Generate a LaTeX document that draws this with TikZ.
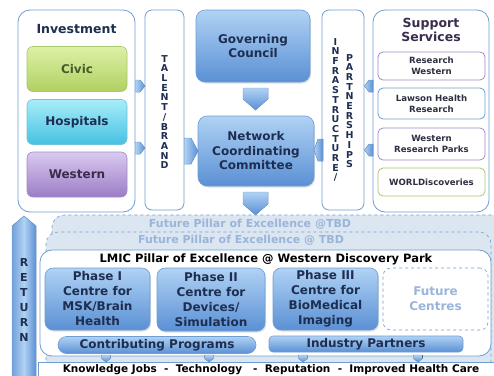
\documentclass[tikz,border=0pt]{standalone}
\usepackage{fontspec}
\setmainfont{DejaVu Sans}
\usetikzlibrary{shadows}

\definecolor{navy}{HTML}{1E2E50}
\definecolor{frameblue}{HTML}{6E9DD3}
\definecolor{boxtop}{HTML}{B0D2F4}
\definecolor{boxbot}{HTML}{5A90D4}
\definecolor{paleblue}{HTML}{DCE6F1}
\definecolor{fadetext}{HTML}{9AB4DA}
\definecolor{civictop}{HTML}{DDF1A6}
\definecolor{civicbot}{HTML}{B0D062}
\definecolor{civicline}{HTML}{A8C870}
\definecolor{civictext}{HTML}{4A5A28}
\definecolor{hosptop}{HTML}{A8EEFA}
\definecolor{hospbot}{HTML}{46C0E2}
\definecolor{hospline}{HTML}{6CC4DE}
\definecolor{westtop}{HTML}{DACAF0}
\definecolor{westbot}{HTML}{9C7CC6}
\definecolor{westline}{HTML}{A08CC8}
\definecolor{westtext}{HTML}{3A2C4C}
\definecolor{servtext}{HTML}{2E3042}

\tikzset{
  frame/.style={draw=frameblue, line width=0.8pt, fill=white, rounded corners=12pt,
    inner sep=0pt},
  bluebox/.style={draw=frameblue, line width=0.6pt, rounded corners=9pt,
    top color=boxtop, bottom color=boxbot, text=navy, align=center,
    font=\fontsize{12}{14.5}\selectfont\bfseries, inner sep=0pt,
    drop shadow={opacity=0.25, shadow xshift=1pt, shadow yshift=-1.5pt}},
  fundbox/.style={rounded corners=6pt, line width=0.6pt, align=center,
    font=\fontsize{12}{14}\selectfont\bfseries, inner sep=0pt,
    minimum width=100pt, minimum height=45pt},
  servbox/.style={draw, fill=white, rounded corners=5pt, line width=0.8pt,
    align=center, text=servtext, font=\fontsize{8.6}{11}\selectfont\bfseries,
    inner sep=0pt, minimum width=107pt},
  letters/.style={text=navy, align=center, inner sep=0pt,
    font=\fontsize{9.5}{9.7}\selectfont\bfseries},
  tab/.style={draw=frameblue, line width=0.4pt, left color=boxtop, right color=boxbot},
  downtab/.style={draw=frameblue, line width=0.4pt, top color=boxtop, bottom color=boxbot},
  future/.style={draw=frameblue, dashed, line width=0.6pt, fill=paleblue,
    rounded corners=12pt},
  pill/.style={draw=frameblue, line width=0.6pt, top color=boxtop,
    bottom color=boxbot, text=navy, inner sep=0pt,
    font=\fontsize{12}{14}\selectfont\bfseries}
}

\begin{document}
\begin{tikzpicture}[x=1pt, y=-1pt]
    \useasboundingbox (0,0) rectangle (494,375);
    \clip (0,0) rectangle (494,375);
    % top row
    \node[frame, minimum width=117pt, minimum height=202pt] (inv) at (76.5,111) {};
    \node[text=navy, font=\fontsize{12.5}{14}\selectfont\bfseries] (invlabel) at (76.5,29) {Investment};
    \node[fundbox, draw=civicline, top color=civictop, bottom color=civicbot, text=civictext] (civic) at (77,69) {Civic};
    \node[fundbox, draw=hospline, top color=hosptop, bottom color=hospbot, text=navy] (hosp) at (77,122) {Hospitals};
    \node[fundbox, draw=westline, top color=westtop, bottom color=westbot, text=westtext] (west) at (77,174.5) {Western};

    \node[frame, rounded corners=7pt, minimum width=39pt, minimum height=200pt] (talent) at (164.5,110) {};
    \node[letters] (talentlabel) at (164.5,112) {T\\A\\L\\E\\N\\T\\/\\B\\R\\A\\N\\D};

    \node[bluebox, minimum width=114pt, minimum height=72pt] (gov) at (253,46) {Governing\\Council};
    \node[bluebox, minimum width=116pt, minimum height=70pt] (ncc) at (256,151) {Network\\Coordinating\\Committee};

    \node[frame, rounded corners=7pt, minimum width=42pt, minimum height=200pt] (infra) at (343,110) {};
    \node[letters] (infralabel) at (335.5,110) {I\\N\\F\\R\\A\\S\\T\\R\\U\\C\\T\\U\\R\\E\\/};
    \node[letters] (partlabel) at (349.5,111) {P\\A\\R\\T\\N\\E\\R\\S\\H\\I\\P\\S};

    \node[frame, minimum width=116pt, minimum height=202pt] (supp) at (431,111) {};
    \node[text=westtext, align=center, font=\fontsize{12.5}{13.5}\selectfont\bfseries] (supplabel) at (431,30) {Support\\Services};
    \node[servbox, draw=westline, minimum height=28pt] (rw) at (431.5,66) {Research\\Western};
    \node[servbox, draw=frameblue, minimum height=31pt] (lawson) at (431.5,103.5) {Lawson Health\\Research};
    \node[servbox, draw=westline, minimum height=32pt] (wrp) at (431.5,144) {Western\\Research Parks};
    \node[servbox, draw=civicline, minimum height=28pt] (world) at (431.5,182) {WORLDiscoveries};

    % tabs between the top boxes
    \filldraw[tab] (135.5,80) -- (140,80) -- (145,86) -- (140,92) -- (135.5,92) -- cycle;
    \filldraw[tab] (135.5,142) -- (140,142) -- (145,148) -- (140,154) -- (135.5,154) -- cycle;
    \filldraw[tab] (184.5,138) -- (191,138) -- (198,151) -- (191,164) -- (184.5,164) -- cycle;
    \filldraw[tab] (323,139) -- (318,139) -- (314,150) -- (318,161) -- (323,161) -- cycle;
    \filldraw[tab] (373,80) -- (369,80) -- (364.5,86) -- (369,92) -- (373,92) -- cycle;
    \filldraw[tab] (373,144) -- (369,144) -- (364.5,150) -- (369,156) -- (373,156) -- cycle;
    \filldraw[downtab] (243,88) -- (268,88) -- (268,99) -- (255.5,110) -- (243,99) -- cycle;
    \filldraw[downtab] (243,192) -- (268,192) -- (268,204) -- (255.5,215) -- (243,204) -- cycle;

    % return arrow
    \filldraw[draw=frameblue, line width=0.4pt, left color=boxbot!85, right color=boxbot, middle color=boxtop]
      (12,390) -- (12,226) -- (24,216) -- (36,226) -- (36,390) -- cycle;
    \node[letters, font=\fontsize{11}{15}\selectfont\bfseries] (retlabel) at (24,299.5) {R\\E\\T\\U\\R\\N};

    % pillars
    \draw[future] (52,390) -- (52,215) -- (510,215) -- (510,390);
    \node[text=fadetext, font=\fontsize{11}{12}\selectfont\bfseries] (fut1) at (250,224) {Future Pillar of Excellence @TBD};
    \draw[future] (46,390) -- (46,232) -- (491,232) -- (491,390);
    \node[text=fadetext, font=\fontsize{11}{12}\selectfont\bfseries] (fut2) at (241,240.5) {Future Pillar of Excellence @ TBD};

    \node[frame, minimum width=451pt, minimum height=106pt] (lmic) at (265.5,303) {};
    \node[font=\fontsize{11.5}{13}\selectfont\bfseries] (lmiclabel) at (266,259) {LMIC Pillar of Excellence @ Western Discovery Park};

    \node[bluebox, rounded corners=8pt, minimum width=105pt, minimum height=62pt, font=\fontsize{12}{15}\selectfont\bfseries] (p1) at (97.5,299) {Phase I\\Centre for\\MSK/Brain\\Health};
    \node[bluebox, rounded corners=8pt, minimum width=108pt, minimum height=63pt, font=\fontsize{12}{15}\selectfont\bfseries] (p2) at (211,299.5) {Phase II\\Centre for\\Devices/\\Simulation};
    \node[bluebox, rounded corners=8pt, minimum width=105pt, minimum height=62pt, font=\fontsize{12}{15}\selectfont\bfseries] (p3) at (325.5,299) {Phase III\\Centre for\\BioMedical\\Imaging};
    \node[draw=frameblue, dashed, rounded corners=8pt, line width=0.6pt, minimum width=105pt, minimum height=62pt, text=fadetext, align=center, font=\fontsize{12}{15}\selectfont\bfseries] (pf) at (435.5,299) {Future\\Centres};

    \node[pill, rounded corners=8.5pt, minimum width=198pt, minimum height=17pt] (contrib) at (157,345) {Contributing Programs};
    \node[pill, rounded corners=4pt, minimum width=194pt, minimum height=16pt] (ind) at (366,344) {Industry Partners};

    % outcomes
    \node[draw=frameblue, fill=white, line width=0.6pt, minimum width=470pt, minimum height=20pt, anchor=north west] (out) at (38,362) {};
    \node[font=\fontsize{10.5}{11}\selectfont\bfseries] (outlabel) at (271,369.5) {Knowledge Jobs\ \ -\ \ Technology\ \ \ -\ \ Reputation\ \ -\ \ Improved Health Care};
    \foreach \xx in {106,209,303,418}
      \filldraw[downtab] (\xx-4.5,355) -- (\xx+4.5,355) -- (\xx+4.5,358.5) -- (\xx,362) -- (\xx-4.5,358.5) -- cycle;
\end{tikzpicture}
\end{document}
